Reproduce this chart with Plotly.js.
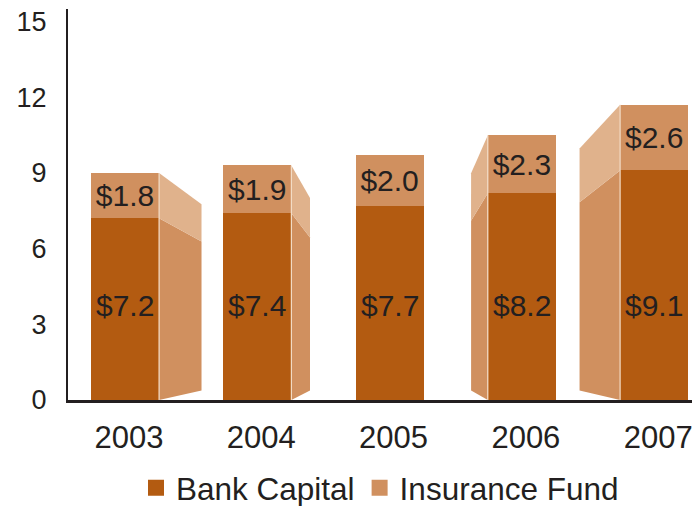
<!DOCTYPE html>
<html>
<head>
<meta charset="utf-8">
<script src="https://cdn.plot.ly/plotly-3.0.1.min.js"></script>
<style>html,body{margin:0;padding:0;background:#fff;}#chart{width:692px;height:506px;}</style>
</head>
<body>
<div id="chart"></div>
<script>
// ---- data ----
const years = [2003, 2004, 2005, 2006, 2007];
const bankCapital = [7.2, 7.4, 7.7, 8.2, 9.1];
const insuranceFund = [1.8, 1.9, 2.0, 2.3, 2.6];
const seriesNames = ['Bank Capital', 'Insurance Fund'];
const yTicks = [0, 3, 6, 9, 12, 15];

// ---- style ----
const FONT = 'Liberation Sans, Arial, sans-serif';
const INK = '#231F20';
const cBank = '#B35B11';
const cIns = '#D0905F';
const cBankSide = '#D0905F';
const cInsSide = '#E0B28C';
const cEdge = '#F3DCC6';
const BAR_W = 0.515;
const BANK_LABEL_LEVEL = 3.75; // bank labels share one baseline level in the original
// pseudo-3D perspective (vanishing centre and depth scale)
const VX = 2005.04, VY = 2.1, S = 0.82;
const px = x => VX + S * (x - VX);
const py = y => VY + S * (y - VY);

const traces = [];
// side faces
years.forEach((yr, i) => {
  const half = BAR_W / 2;
  let inner;
  if (yr + half < VX) inner = yr + half;
  else if (yr - half > VX) inner = yr - half;
  else return;
  const outer = px(inner);
  const b = bankCapital[i], t = bankCapital[i] + insuranceFund[i];
  traces.push({
    type: 'scatter', mode: 'lines', fill: 'toself', fillcolor: cBankSide,
    x: [inner, inner, outer, outer, inner], y: [0, b, py(b), py(0), 0],
    line: {width: 0, color: cBankSide}, hoverinfo: 'skip', showlegend: false
  });
  traces.push({
    type: 'scatter', mode: 'lines', fill: 'toself', fillcolor: cInsSide,
    x: [inner, inner, outer, outer, inner], y: [b, t, py(t), py(b), b],
    line: {width: 0, color: cInsSide}, hoverinfo: 'skip', showlegend: false
  });
  traces.push({
    type: 'scatter', mode: 'lines', x: [inner, inner], y: [0, t],
    line: {width: 1.2, color: cEdge}, hoverinfo: 'skip', showlegend: false
  });
});

const textFont = {family: FONT, size: 30, color: INK};
traces.push({
  type: 'bar', x: years, y: bankCapital, name: seriesNames[0], width: BAR_W,
  marker: {color: cBank, line: {width: 0}},
  showlegend: false, hoverinfo: 'skip'
});
traces.push({
  type: 'bar', x: years, y: insuranceFund, name: seriesNames[1], width: BAR_W,
  marker: {color: cIns, line: {width: 0}},
  text: insuranceFund.map(v => '$' + v.toFixed(1)), textposition: 'inside',
  insidetextanchor: 'middle', textfont: textFont, showlegend: false, hoverinfo: 'skip'
});
// legend entries
traces.push({type: 'scatter', mode: 'markers', x: [null], y: [null], name: seriesNames[0],
  marker: {symbol: 'square', size: 16, color: cBank}});
traces.push({type: 'scatter', mode: 'markers', x: [null], y: [null], name: seriesNames[1],
  marker: {symbol: 'square', size: 16, color: cIns}});

const annotations = years.map((yr, i) => ({
  x: yr, y: BANK_LABEL_LEVEL, xref: 'x', yref: 'y',
  text: '$' + bankCapital[i].toFixed(1), showarrow: false,
  xanchor: 'center', yanchor: 'middle', font: textFont
}));

const layout = {
  width: 692, height: 506,
  margin: {l: 68, r: 0, t: 9, b: 106, autoexpand: false},
  paper_bgcolor: '#ffffff', plot_bgcolor: '#ffffff',
  barmode: 'stack',
  font: {family: FONT, color: INK},
  annotations: annotations,
  xaxis: {
    range: [2002.569, 2007.286], tickvals: years, ticktext: years.map(String),
    showgrid: false, zeroline: false, showline: true, linecolor: INK, linewidth: 2.5,
    ticks: '', tickfont: {family: FONT, size: 31, color: INK}, ticklabelstandoff: 8,
    ticklabelshift: 4, ticklabeloverflow: 'allow', fixedrange: true
  },
  yaxis: {
    range: [0, 15.5], tickvals: yTicks, ticktext: yTicks.map(String),
    showgrid: false, zeroline: false, showline: true, linecolor: INK, linewidth: 2,
    ticks: '', tickfont: {family: FONT, size: 27, color: INK}, ticklabelstandoff: 14,
    fixedrange: true
  },
  showlegend: true,
  legend: {
    orientation: 'h', traceorder: 'normal',
    x: 0.5, xanchor: 'center', y: 0.036, yref: 'container', yanchor: 'middle',
    font: {family: FONT, size: 31.5, color: INK}, itemwidth: 30,
    bgcolor: 'rgba(0,0,0,0)'
  }
};
Plotly.newPlot('chart', traces, layout, {displayModeBar: false, staticPlot: true});
</script>
</body>
</html>
